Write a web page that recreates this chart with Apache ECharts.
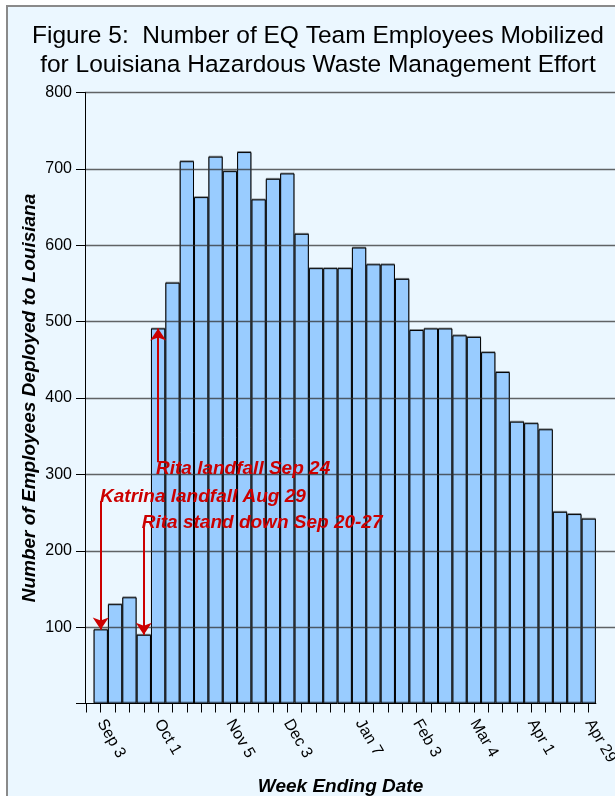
<!DOCTYPE html>
<html>
<head>
<meta charset="utf-8">
<script src="https://cdn.jsdelivr.net/npm/echarts@6/dist/echarts.min.js"></script>
<style>
body{margin:0;background:#ffffff;}
#frame{position:absolute;left:6px;top:5px;width:700px;height:900px;border-left:2px solid #8a8a8a;border-top:2px solid #8a8a8a;background:#ebf7ff;}
#main{position:absolute;left:0;top:0;width:615px;height:796px;}
</style>
</head>
<body>
<div id="frame"></div>
<div id="main"></div>
<script>
// employees deployed, one bar per week (week 1 = Sep 3 ... week 35 = Apr 29)
var employees = [97, 130, 139, 90, 491, 551, 710, 663, 716, 697, 722, 660, 687, 694, 615,
	570, 570, 570, 597, 575, 575, 556, 489, 491, 491, 482, 480, 460, 434, 369, 367, 359,
	251, 248, 242];

// labelled weeks on the x axis
var tickWeeks = [1, 5, 10, 14, 19, 23, 27, 31, 35];
var tickLabels = ['Sep 3', 'Oct 1', 'Nov 5', 'Dec 3', 'Jan 7', 'Feb 3', 'Mar 4', 'Apr 1', 'Apr 29'];

var yTicks = [0, 100, 200, 300, 400, 500, 600, 700, 800];

// annotations: text, where the text starts (week, value), arrow from/to value at arrow week
var noteText = ['Katrina landfall Aug 29', 'Rita stand down Sep 20-27', 'Rita landfall Sep 24'];
var notePos = [[0.95, 271], [3.86, 237], [4.85, 307]];
var noteArrowWeek = [1, 4, 5];
var noteArrowFrom = [265, 230, 316];
var noteArrowTo = [97, 90, 491];

var font = "'Liberation Sans', Arial, sans-serif";
var red = '#cc0000';

// week 0 is the empty slot at the y axis
var weekCats = ['0'];
var barData = [];
for (var i = 0; i < employees.length; i++) {
	weekCats.push(String(i + 1));
	barData.push([i + 1, employees[i]]);
}

var noteData = [];
var arrowData = [];
for (var n = 0; n < noteText.length; n++) {
	noteData.push({value: notePos[n], name: noteText[n]});
	arrowData.push([{coord: [noteArrowWeek[n], noteArrowFrom[n]]}, {coord: [noteArrowWeek[n], noteArrowTo[n]]}]);
}

var chart = echarts.init(document.getElementById('main'));

chart.setOption({
	animation: false,
	backgroundColor: 'transparent',
	textStyle: {fontFamily: font},
	title: {
		text: 'Figure 5:  Number of EQ Team Employees Mobilized\nfor Louisiana Hazardous Waste Management Effort',
		left: 318,
		top: 21,
		padding: 0,
		textAlign: 'center',
		textStyle: {fontFamily: font, fontSize: 24.5, fontWeight: 'normal', color: '#000', lineHeight: 29.5}
	},
	grid: [
		{left: 79.2, width: 516.7, top: 92.5, bottom: 92.5, outerBoundsMode: 'none', containLabel: false},
		{left: 85, right: -40, top: 92.5, bottom: 92.5, outerBoundsMode: 'none', containLabel: false}
	],
	xAxis: [{
		type: 'category', gridIndex: 0, data: weekCats, boundaryGap: true,
		name: 'Week Ending Date', nameLocation: 'middle', nameGap: 74,
		nameTextStyle: {fontFamily: font, fontSize: 19, fontWeight: 'bold', fontStyle: 'italic', color: '#000', padding: [0, 0, 0, 6]},
		axisLine: {show: true, lineStyle: {color: '#000', width: 1}},
		axisTick: {show: true, length: 9, interval: 0, alignWithLabel: true, lineStyle: {color: '#000'}},
		axisLabel: {
			interval: 0, rotate: -60, margin: 17, fontSize: 16, color: '#000', fontFamily: font,
			formatter: function (v, idx) {
				var k = tickWeeks.indexOf(idx);
				return k < 0 ? '' : tickLabels[k];
			}
		},
		splitLine: {show: false}
	}, {
		type: 'value', gridIndex: 1, min: 0, max: 1, show: false
	}, {
		// same scale as the category bands, used for the annotations
		type: 'value', gridIndex: 0, min: -0.5, max: 35.5, show: false
	}],
	yAxis: [{
		type: 'value', gridIndex: 0, min: 0, max: 800, show: false
	}, {
		type: 'value', gridIndex: 1, min: 0, max: 800, interval: 100, z: 5,
		name: 'Number of Employees Deployed to Louisiana', nameLocation: 'middle', nameGap: 46, nameRotate: 90,
		nameMoveOverlap: false,
		nameTextStyle: {fontFamily: font, fontSize: 19, fontWeight: 'bold', fontStyle: 'italic', color: '#000'},
		axisLine: {show: true, lineStyle: {color: '#000', width: 1}},
		axisTick: {show: true, length: 9, lineStyle: {color: '#000'}},
		axisLabel: {
			margin: 13, fontSize: 16, color: '#000', fontFamily: font,
			formatter: function (v) { return yTicks.indexOf(v) > 0 ? String(v) : ''; }
		},
		splitLine: {show: true, showMinLine: false, lineStyle: {color: 'rgba(50,50,50,0.75)', width: 1.3}}
	}],
	series: [{
		type: 'bar',
		xAxisIndex: 0, yAxisIndex: 0, z: 2,
		data: barData,
		barWidth: '100%',
		itemStyle: {color: '#99ccff', borderColor: '#000', borderWidth: 1,
			shadowColor: 'rgba(0,0,0,0.35)', shadowOffsetY: -1, shadowBlur: 0}
	}, {
		type: 'scatter',
		xAxisIndex: 2, yAxisIndex: 0, z: 10,
		symbolSize: 0,
		itemStyle: {opacity: 1},
		data: noteData,
		label: {
			show: true, position: 'right', distance: 0, opacity: 1,
			formatter: function (p) { return p.name; },
			fontFamily: font, fontSize: 19, fontWeight: 'bold', fontStyle: 'italic', color: red
		},
		markLine: {
			silent: true,
			symbol: ['none', 'arrow'],
			symbolSize: [12, 12],
			label: {show: false},
			lineStyle: {color: red, width: 2, type: 'solid', opacity: 1},
			data: arrowData
		}
	}]
});
</script>
</body>
</html>
